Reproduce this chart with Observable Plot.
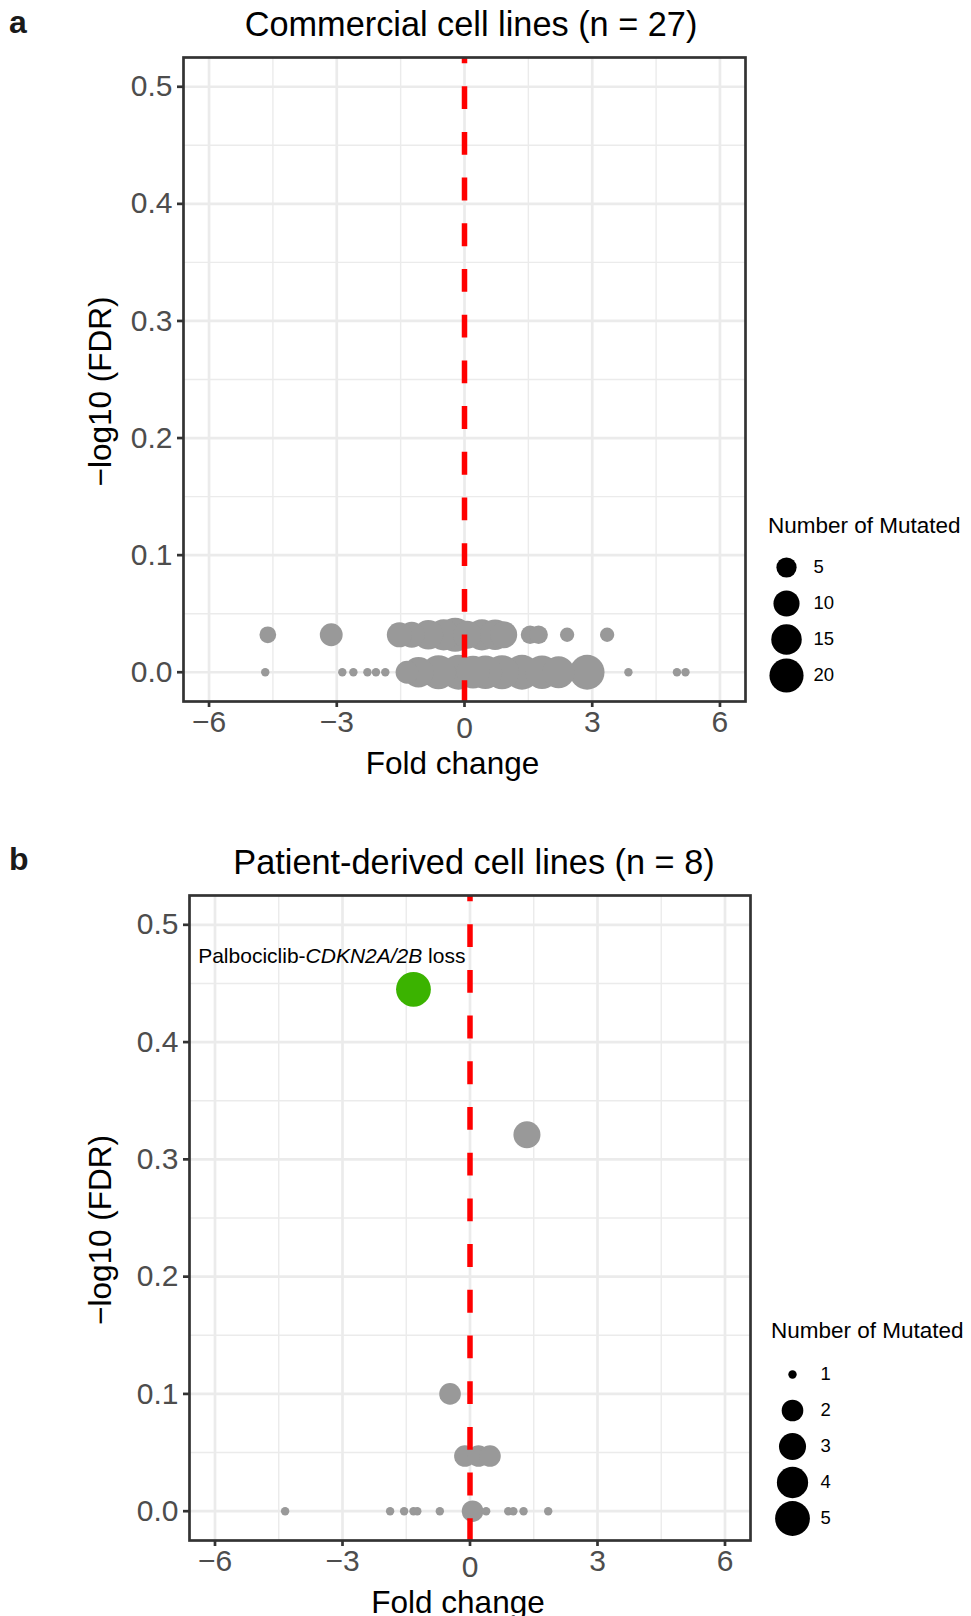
<!DOCTYPE html>
<html><head><meta charset="utf-8">
<script src="https://cdn.jsdelivr.net/npm/d3@7"></script>
<script src="https://cdn.jsdelivr.net/npm/@observablehq/plot@0.6"></script>
<style>
body{margin:0;background:#fff;font-family:"Liberation Sans",Arial,sans-serif;}
#root{position:relative;width:971px;height:1616px;overflow:hidden;background:#fff;}
#root > *{position:absolute;}
</style></head><body><div id="root"></div>
<script>
// ---------- Panel a: Commercial cell lines (n = 27) ----------
const aFold    = [-4.62,-3.13,-1.53,-1.24,-0.85,-0.49,-0.22,0.06,0.41,0.72,0.92,1.54,1.74,2.41,3.35,
                  -4.68,-2.87,-2.61,-2.28,-2.08,-1.86,-1.35,-1.08,-0.61,-0.14,0.20,0.49,0.88,1.35,1.82,2.21,2.88,3.85,4.99,5.19];
const aFDR     = [0.032,0.032,0.032,0.032,0.032,0.032,0.032,0.032,0.032,0.032,0.032,0.032,0.032,0.032,0.032,
                  0,0,0,0,0,0,0,0,0,0,0,0,0,0,0,0,0,0,0,0];
const aMutated = [3,7,9,10,14,16,20,12,16,15,11,4,4,2,2,
                  1,1,1,1,1,1,7,15,20,21,18,19,20,21,19,17,21,1,1,1];
const aLegend  = [5,10,15,20];

// ---------- Panel b: Patient-derived cell lines (n = 8) ----------
const bFold    = [-1.33,1.34,-0.47,-0.12,0.20,0.47,-4.35,-1.88,-1.55,-1.33,-1.24,-0.71,0.06,0.38,0.90,1.02,1.26,1.84];
const bFDR     = [0.445,0.321,0.100,0.047,0.047,0.047,0,0,0,0,0,0,0,0,0,0,0,0];
const bMutated = [5,3,2,2,2,2,1,1,1,1,1,1,2,1,1,1,1,1];
const bHighlight = ["Palbociclib-CDKN2A/2B loss"];   // label of the first point
const bLegend  = [1,2,3,4,5];

const xMajor = [-6,-3,0,3,6];
const xMinor = [-4.5,-1.5,1.5,4.5];
const yMajor = [0,0.1,0.2,0.3,0.4,0.5];
const yMinor = [0.05,0.15,0.25,0.35,0.45];

const titles = ["Commercial cell lines (n = 27)", "Patient-derived cell lines (n = 8)"];
const xLabel = "Fold change";
const yLabel = "\u2212log10 (FDR)";
const legendTitle = "Number of Mutated";

const FONT = '"Liberation Sans", Arial, Helvetica, sans-serif';
const aData = aFold.map((f,i)=>({fold:f, fdr:aFDR[i], n:aMutated[i]}));
const bData = bFold.map((f,i)=>({fold:f, fdr:bFDR[i], n:bMutated[i], hi: i===0}));

const root = document.getElementById("root");

function rScale(maxN){
  return {type:"linear", transform: v => Math.sqrt(v - 1), domain:[0, Math.sqrt(maxN - 1)], range:[4.2, 17.4]};
}

function panel(data, r, ml, mr, height, mb, fillFn, extra){
  return Plot.plot({
    width: 971, height, marginLeft: ml, marginRight: mr, marginTop: 57, marginBottom: mb,
    x: {domain: [-6.6, 6.6]},
    y: {domain: [-0.025, 0.525]},
    r,
    style: {fontFamily: FONT, background: "transparent", overflow: "visible"},
    marks: [
      Plot.gridX(xMinor, {stroke:"#EBEBEB", strokeOpacity:1, strokeWidth:1.4}),
      Plot.gridY(yMinor, {stroke:"#EBEBEB", strokeOpacity:1, strokeWidth:1.4}),
      Plot.gridX(xMajor, {stroke:"#EBEBEB", strokeOpacity:1, strokeWidth:2.7}),
      Plot.gridY(yMajor, {stroke:"#EBEBEB", strokeOpacity:1, strokeWidth:2.7}),
      Plot.dot(data, {x:"fold", y:"fdr", r:"n", fill: fillFn, stroke:null}),
      ...extra,
      Plot.ruleX([0], {stroke:"#FF0000", strokeWidth:5.5, strokeDasharray:"22.85,22.85", strokeDashoffset:16.5}),
      Plot.frame({stroke:"#333333", strokeWidth:2.7}),
      Plot.axisX(xMajor, {tickSize:6, tickPadding:3, stroke:"#333333", strokeWidth:2.7, fill:"#4D4D4D", fontSize:30,
        tickFormat: d => d === 0 ? "" : d3.format("d")(d), label:null}),
      Plot.text([0], {x: d => d, text: d => String(d), frameAnchor:"bottom", lineAnchor:"top", dy:15, fontSize:30, fill:"#4D4D4D"}),
      Plot.axisY(yMajor, {tickSize:6, tickPadding:5, stroke:"#333333", strokeWidth:2.7, fill:"#4D4D4D", fontSize:30,
        tickFormat: d3.format(".1f"), label:null}),
      Plot.text([xLabel], {frameAnchor:"bottom", textAnchor:"middle", lineAnchor:"bottom", dy:72, dx:-12, fontSize:31.5, fill:"#000"}),
      Plot.text([yLabel], {frameAnchor:"left", textAnchor:"middle", rotate:-90, lineAnchor:"middle", dx:-(ml-100), dy:12, fontSize:31.5, fill:"#000"})
    ]
  });
}

function legendPlot(values, r, cx, labelX, spacing){
  return Plot.plot({
    width: 221, height: 60 + spacing*(values.length-1),
    marginLeft: cx, marginRight: 0, marginTop: 0, marginBottom: 0,
    y: {type:"point", domain: values, range:[30, 30 + spacing*(values.length-1)], padding:0, axis:null},
    r,
    style: {fontFamily: FONT, background: "transparent", overflow:"visible"},
    marks: [
      Plot.dot(values, {y: d => d, r: d => d, fill:"#000", stroke:null, frameAnchor:"left"}),
      Plot.text(values, {y: d => d, text: d => String(d), frameAnchor:"left", dx: labelX - cx, textAnchor:"start", fontSize:18.5, fill:"#000"})
    ]
  });
}

// Panel a
const rA = rScale(21);
const pa = panel(aData, rA, 183, 226, 800, 99, "#999999", []);
pa.style.left = "0px"; pa.style.top = "0px";
root.appendChild(pa);
const la = legendPlot(aLegend, rA, 36, 63, 36.2);
la.style.left = "750px"; la.style.top = (567.3 - 30) + "px";
root.appendChild(la);

// Panel b
const rB = rScale(5);
const pb = panel(bData, rB, 189, 221, 778, 76, d => d.hi ? "#3BB300" : "#999999", [
  Plot.text(bData.filter(d => d.hi), {x:"fold", y:"fdr", text: () => bHighlight[0], textAnchor:"end", lineAnchor:"middle", dx:52, dy:-33, fontSize:21, fill:"#000"})
]);
pb.style.left = "0px"; pb.style.top = "838px";
root.appendChild(pb);
// italicise the gene name in the annotation
pb.querySelectorAll("text").forEach(t => {
  if (t.textContent === bHighlight[0]) {
    t.textContent = "";
    const parts = [["Palbociclib-", null], ["CDKN2A/2B", "italic"], [" loss", null]];
    for (const [s, st] of parts) {
      const ts = document.createElementNS("http://www.w3.org/2000/svg", "tspan");
      ts.textContent = s;
      if (st) ts.setAttribute("font-style", st);
      t.appendChild(ts);
    }
  }
});
const lb = legendPlot(bLegend, rB, 42, 70, 36.4);
lb.style.left = "750px"; lb.style.top = (1372.7 - 30) + "px";
root.appendChild(lb);

// Titles and panel letters
const NS = "http://www.w3.org/2000/svg";
const ov = document.createElementNS(NS, "svg");
ov.setAttribute("width", 971); ov.setAttribute("height", 1616);
ov.style.left = "0px"; ov.style.top = "0px"; ov.style.pointerEvents = "none";
function addText(str, x, y, size, opts = {}){
  const t = document.createElementNS(NS, "text");
  t.setAttribute("x", x); t.setAttribute("y", y);
  t.setAttribute("font-size", size); t.setAttribute("font-family", FONT);
  t.setAttribute("fill", opts.fill || "#000");
  if (opts.anchor) t.setAttribute("text-anchor", opts.anchor);
  if (opts.weight) t.setAttribute("font-weight", opts.weight);
  t.textContent = str;
  ov.appendChild(t);
}
addText("a", 9, 33, 32, {weight:"bold", fill:"#1a1a1a"});
addText(titles[0], 471, 36, 34.3, {anchor:"middle"});
addText(legendTitle, 768, 533, 22.5);
addText("b", 9, 870, 32, {weight:"bold", fill:"#1a1a1a"});
addText(titles[1], 474, 874, 34.3, {anchor:"middle"});
addText(legendTitle, 771, 1338, 22.5);
root.appendChild(ov);
</script>
</body></html>
